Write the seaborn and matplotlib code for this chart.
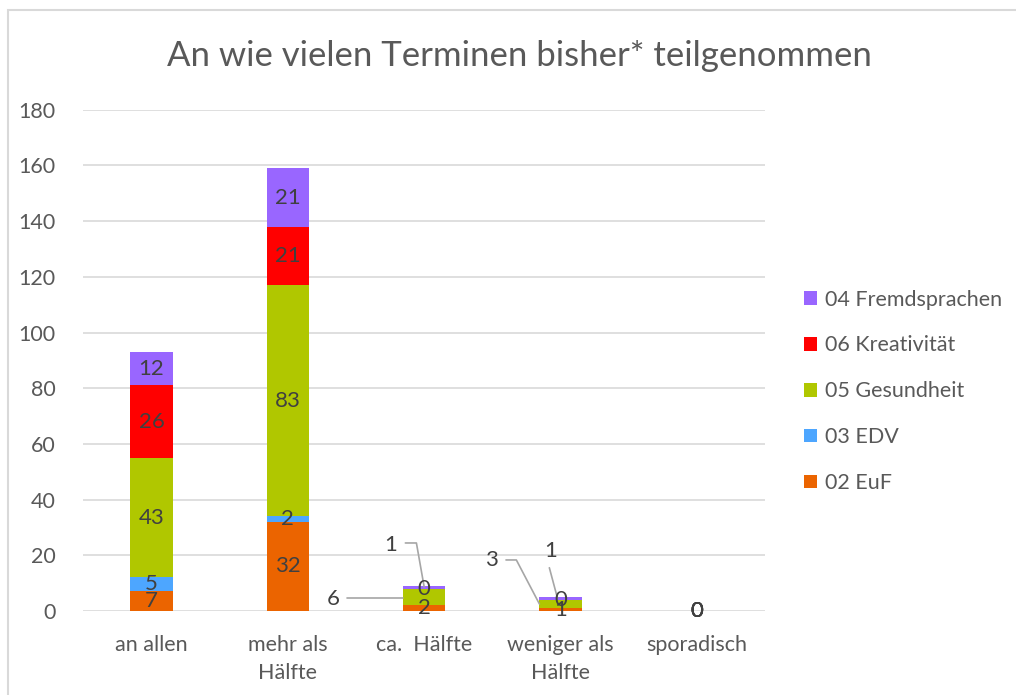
import numpy as np
import pandas as pd
import matplotlib
matplotlib.use("Agg")
import matplotlib.pyplot as plt
from matplotlib.patches import Patch, Rectangle
import seaborn as sns

categories = ["an allen", "mehr als\nHälfte", "ca.  Hälfte", "weniger als\nHälfte", "sporadisch"]
euf = [7, 32, 2, 1, 0]
edv = [5, 2, 0, 0, 0]
gesundheit = [43, 83, 6, 3, 0]
kreativitaet = [26, 21, 0, 0, 0]
fremdsprachen = [12, 21, 1, 1, 0]

series_names = ["02 EuF", "03 EDV", "05 Gesundheit", "06 Kreativität", "04 Fremdsprachen"]
series_vals = [euf, edv, gesundheit, kreativitaet, fremdsprachen]
colors = ["#EB6400", "#4DA6FF", "#B0C700", "#FF0000", "#9966FF"]

sns.set_style("white")
plt.rcParams["font.family"] = ["Lato", "DejaVu Sans"]
txt = "#595959"
lbl = "#404040"

fig = plt.figure(figsize=(10.16, 6.95), dpi=100)
ax = fig.add_axes([0.082, 0.121, 0.671, 0.721])

df = pd.DataFrame({"cat": categories})
bottom = np.zeros(len(categories))
for name, vals, c in zip(series_names, series_vals, colors):
    df["v"] = vals
    sns.barplot(data=df, x="cat", y="v", bottom=bottom, color=c, width=0.31,
                saturation=1, ax=ax, zorder=3, edgecolor="none", linewidth=0)
    bottom = bottom + np.array(vals)

# data labels at segment centres, a few moved out with leader lines
moved = {(2, 2): (1.334, 4.3, [(1.437, 4.6), (1.845, 4.6)]),
         (2, 4): (1.752, 23.7, [(1.862, 24.4), (1.943, 24.4), (2.0, 8.6)]),
         (3, 2): (2.49, 18.3, [(2.60, 18.3), (2.676, 18.3), (2.845, 2.5)]),
         (3, 4): (2.925, 21.6, [(2.918, 15.5), (2.977, 4.7)])}
skip = {(2, 1), (3, 1)}
base = np.zeros(len(categories))
for si, vals in enumerate(series_vals):
    for ci, v in enumerate(vals):
        y = base[ci] + v / 2
        if (ci, si) in skip:
            continue
        if (ci, si) in moved:
            tx, ty, pts = moved[(ci, si)]
            ax.text(tx, ty, str(v), ha="center", va="center", fontsize=16, color=lbl, zorder=5)
            xs, ys = zip(*pts)
            ax.plot(xs, ys, color="#A6A6A6", lw=1.2, zorder=4)
        else:
            ax.text(ci, y, str(v), ha="center", va="center", fontsize=16, color=lbl, zorder=5)
    base = base + np.array(vals)

ax.set_ylim(0, 180)
ax.set_xlim(-0.5, 4.5)
ax.set_yticks(np.arange(0, 181, 20))
ax.yaxis.grid(True, color="#D9D9D9", lw=1.2, zorder=0)
ax.xaxis.grid(False)
for s in ax.spines.values():
    s.set_visible(False)
ax.set_xlabel("")
ax.set_ylabel("")
ax.tick_params(axis="both", length=0, labelsize=15.5, colors=txt)
ax.tick_params(axis="y", pad=20)
ax.tick_params(axis="x", pad=17)
ax.set_xticks(range(len(categories)))
ax.set_xticklabels(categories, linespacing=1.55)

fig.text(0.511, 0.92, "An wie vielen Terminen bisher* teilgenommen",
         ha="center", va="center", fontsize=25, color=txt)

handles = [Patch(facecolor=c, edgecolor="none", label=n) for n, c in zip(series_names, colors)][::-1]
fig.legend(handles=handles, loc="center left", bbox_to_anchor=(0.772, 0.437), frameon=False,
           fontsize=15.5, labelcolor=txt, handlelength=0.6, handleheight=0.6,
           handletextpad=0.4, labelspacing=1.2)

fig.patches.append(Rectangle((8 / 1016, -0.05), 1.1, 1.05 - 10 / 695, transform=fig.transFigure,
                             fill=False, edgecolor="#D9D9D9", lw=1.5))

fig.savefig("out.png", dpi=100)
